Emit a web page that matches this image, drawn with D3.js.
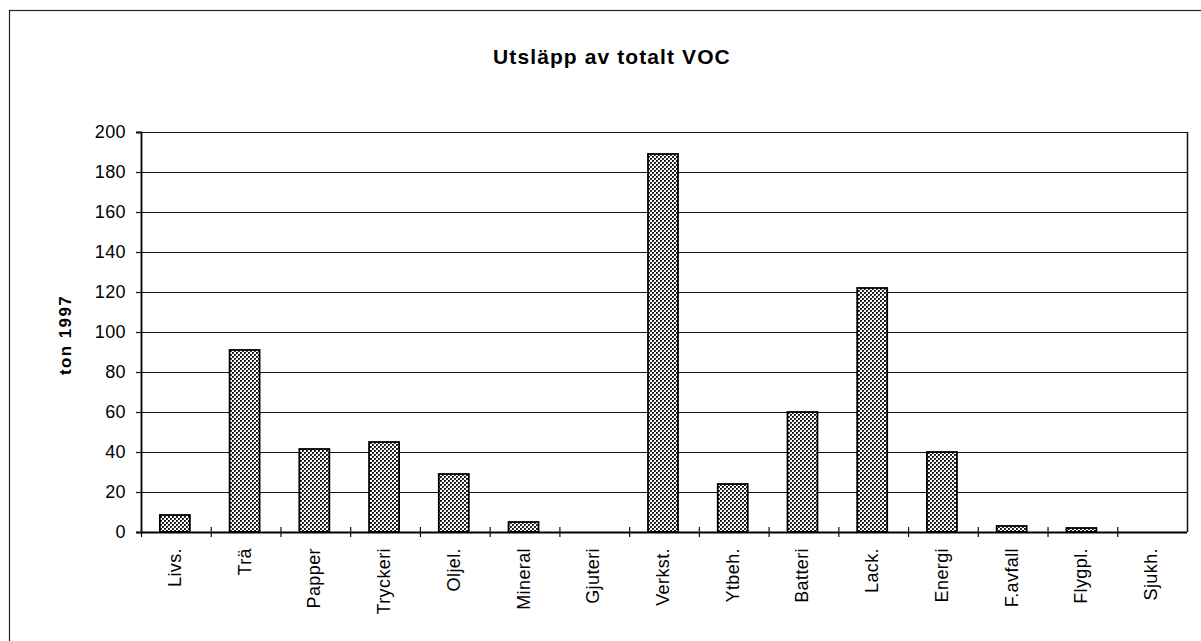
<!DOCTYPE html>
<html>
<head>
<meta charset="utf-8">
<script src="https://cdn.jsdelivr.net/npm/d3@7"></script>
<style>
  body { margin: 0; background: #fff; }
  svg { display: block; font-family: "Liberation Sans", Arial, sans-serif; }
</style>
</head>
<body>
<div id="wrapper"></div>
<script>
var categories = ["Livs.", "Trä", "Papper", "Tryckeri", "Oljel.", "Mineral", "Gjuteri", "Verkst.",
                  "Ytbeh.", "Batteri", "Lack.", "Energi", "F.avfall", "Flygpl.", "Sjukh."];
var values = [8.5, 91, 41.5, 45, 29, 5, 0, 189, 24, 60, 122, 40, 3, 2, 0];
var yTicks = [0, 20, 40, 60, 80, 100, 120, 140, 160, 180, 200];
var title = "Utsläpp av totalt VOC";
var yLabel = "ton 1997";

var W = 1201, H = 641;
var plot = {left: 141, right: 1187, top: 132, bottom: 532};

var svg = d3.select("#wrapper").append("svg")
    .attr("width", W)
    .attr("height", H);

// checkered fill like the scanned bars
var pat = svg.append("defs").append("pattern")
    .attr("id", "dots")
    .attr("width", 4)
    .attr("height", 4)
    .attr("patternUnits", "userSpaceOnUse");
pat.append("rect").attr("width", 4).attr("height", 4).attr("fill", "#fff");
pat.append("rect").attr("x", 0).attr("y", 0).attr("width", 2).attr("height", 2).attr("fill", "#1a1a1a");
pat.append("rect").attr("x", 2).attr("y", 2).attr("width", 2).attr("height", 2).attr("fill", "#1a1a1a");
pat.append("rect").attr("x", 1).attr("y", 1).attr("width", 1).attr("height", 1).attr("fill", "#555");
pat.append("rect").attr("x", 3).attr("y", 3).attr("width", 1).attr("height", 1).attr("fill", "#555");

// outer frame (cropped scan: only left and top visible)
svg.append("rect")
    .attr("x", 9.5).attr("y", 10.5)
    .attr("width", 1400).attr("height", 800)
    .attr("fill", "none")
    .attr("stroke", "#222")
    .attr("stroke-width", 1.2);

var x = d3.scaleBand()
    .domain(categories)
    .range([plot.left, plot.right])
    .padding(0);

var y = d3.scaleLinear()
    .domain([0, 200])
    .range([plot.bottom, plot.top]);

// gridlines
svg.append("g")
    .selectAll("line")
    .data(yTicks.filter(function(d) { return d > 0; }))
    .enter()
    .append("line")
    .attr("x1", plot.left)
    .attr("x2", plot.right)
    .attr("y1", function(d) { return Math.round(y(d)) + 0.5; })
    .attr("y2", function(d) { return Math.round(y(d)) + 0.5; })
    .attr("stroke", "#111")
    .attr("stroke-width", 1.2);

// right frame of plot area
svg.append("line")
    .attr("x1", plot.right + 0.5).attr("x2", plot.right + 0.5)
    .attr("y1", plot.top).attr("y2", plot.bottom)
    .attr("stroke", "#111")
    .attr("stroke-width", 1.5);

// bars
var bw = x.bandwidth() * 0.43;
svg.append("g")
    .selectAll("rect")
    .data(values)
    .enter()
    .append("rect")
    .attr("x", function(d, i) { return x(categories[i]) + (x.bandwidth() - bw) / 2 - 1; })
    .attr("y", function(d) { return y(d); })
    .attr("width", bw)
    .attr("height", function(d) { return y(0) - y(d); })
    .attr("fill", "url(#dots)")
    .attr("stroke", function(d) { return d > 0 ? "#000" : "none"; })
    .attr("stroke-width", 1.8);

// y axis
var yAxis = svg.append("g")
    .attr("transform", "translate(" + plot.left + ",0)")
    .call(d3.axisLeft(y).tickValues(yTicks).tickSize(5).tickPadding(10).tickFormat(d3.format("d")));
yAxis.select(".domain").attr("stroke", "#000").attr("stroke-width", 1.8);
yAxis.selectAll(".tick line").attr("stroke", "#111").attr("stroke-width", 1.2);
yAxis.selectAll("text")
    .style("font-size", "18px")
    .style("letter-spacing", "0.4px")
    .style("font-family", "'Liberation Sans', Arial, sans-serif")
    .attr("fill", "#000");

// x axis: ticks at band boundaries, crossing the axis
var xAxis = svg.append("g");
xAxis.append("line")
    .attr("x1", plot.left).attr("x2", plot.right)
    .attr("y1", plot.bottom + 0.5).attr("y2", plot.bottom + 0.5)
    .attr("stroke", "#000")
    .attr("stroke-width", 1.8);
xAxis.selectAll("line.tk")
    .data(categories)
    .enter()
    .append("line")
    .attr("class", "tk")
    .attr("x1", function(d) { return x(d) + 0.5; })
    .attr("x2", function(d) { return x(d) + 0.5; })
    .attr("y1", plot.bottom - 5)
    .attr("y2", plot.bottom + 5)
    .attr("stroke", "#111")
    .attr("stroke-width", 1.2);

xAxis.selectAll("text")
    .data(categories)
    .enter()
    .append("text")
    .attr("transform", function(d) {
        return "translate(" + (x(d) + x.bandwidth() / 2 + 5) + "," + (plot.bottom + 16) + ") rotate(-90)";
    })
    .attr("text-anchor", "end")
    .style("font-size", "18px")
    .style("letter-spacing", "0.4px")
    .attr("fill", "#000")
    .text(function(d) { return d; });

// title
svg.append("text")
    .attr("x", 612)
    .attr("y", 64)
    .attr("text-anchor", "middle")
    .style("font-size", "21px")
    .style("letter-spacing", "1.1px")
    .style("font-weight", "bold")
    .attr("fill", "#000")
    .text(title);

// y label
svg.append("text")
    .attr("transform", "translate(71," + 335 + ") rotate(-90)")
    .attr("text-anchor", "middle")
    .style("font-size", "17px")
    .style("letter-spacing", "1.4px")
    .style("font-weight", "bold")
    .attr("fill", "#000")
    .text(yLabel);
</script>
</body>
</html>
